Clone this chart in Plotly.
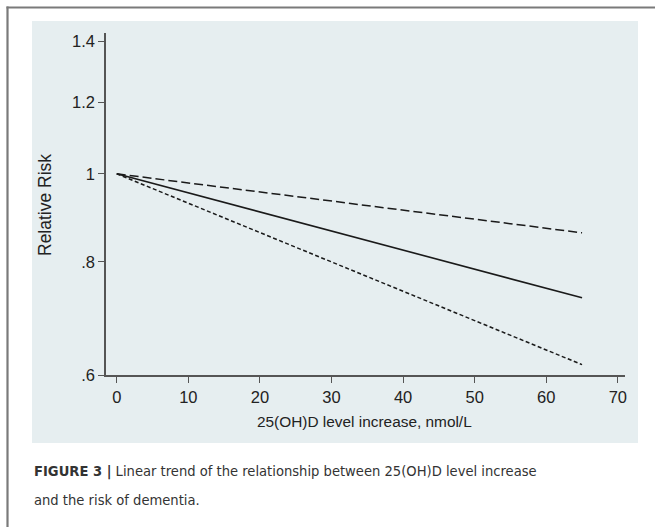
import plotly.graph_objects as go

x_vals = [0, 10, 20, 30, 40, 50, 60, 65]
rr_est = [1.0, 0.953, 0.908, 0.865, 0.824, 0.785, 0.748, 0.730]
rr_upper = [1.0, 0.977, 0.955, 0.933, 0.912, 0.891, 0.871, 0.861]
rr_lower = [1.0, 0.928, 0.861, 0.799, 0.742, 0.689, 0.639, 0.616]

x_ticks = [0, 10, 20, 30, 40, 50, 60, 70]
y_ticks = [0.6, 0.8, 1.0, 1.2, 1.4]
y_tick_labels = [".6", ".8", "1", "1.2", "1.4"]

W, H = 655, 527
L, R, T, B = 106, 30, 33, 152
pw, ph = W - L - R, H - T - B


def px(x):
    return (x - L) / pw


def py(y):
    return (H - B - y) / ph


line_col = "#1a1a1a"
fig = go.Figure()
fig.add_trace(go.Scatter(x=x_vals, y=rr_upper, mode="lines",
                         line=dict(color=line_col, width=1.5, dash="9px,4px")))
fig.add_trace(go.Scatter(x=x_vals, y=rr_est, mode="lines",
                         line=dict(color=line_col, width=1.6)))
fig.add_trace(go.Scatter(x=x_vals, y=rr_lower, mode="lines",
                         line=dict(color=line_col, width=1.5, dash="4px,2.5px")))

shapes = [
    dict(type="rect", xref="paper", yref="paper", x0=px(32), x1=px(638),
         y0=py(443), y1=py(21), fillcolor="#e6eef0", line=dict(width=0), layer="below"),
    dict(type="line", xref="paper", yref="paper", x0=px(6.5), x1=px(655),
         y0=py(7.5), y1=py(7.5), line=dict(color="#7a7a7a", width=2.2)),
    dict(type="line", xref="paper", yref="paper", x0=px(7.5), x1=px(7.5),
         y0=py(6.5), y1=py(527), line=dict(color="#7a7a7a", width=2.2)),
]

font_ax = "Liberation Sans, Arial, sans-serif"
cap_font = "Liberation Sans Narrow, DejaVu Sans Condensed, Arial Narrow, sans-serif"
annotations = [
    dict(text="25(OH)D level increase, nmol/L", xref="paper", yref="paper",
         x=px(364), y=py(422), showarrow=False, xanchor="center", yanchor="middle",
         font=dict(family=font_ax, size=15.4, color="#222222")),
    dict(text="Relative Risk", xref="paper", yref="paper", textangle=-90,
         x=px(45), y=py(205), showarrow=False, xanchor="center", yanchor="middle",
         font=dict(family=font_ax, size=17.5, color="#222222")),
    dict(text="<b>FIGURE 3 |</b> Linear trend of the relationship between 25(OH)D level increase",
         xref="paper", yref="paper", x=px(32), y=py(471), showarrow=False,
         xanchor="left", yanchor="middle",
         font=dict(family=cap_font, size=14.6, color="#333333")),
    dict(text="and the risk of dementia.",
         xref="paper", yref="paper", x=px(32), y=py(499), showarrow=False,
         xanchor="left", yanchor="middle",
         font=dict(family=cap_font, size=14.6, color="#333333")),
]

fig.update_layout(
    width=W, height=H,
    margin=dict(l=L, r=R, t=T, b=B, pad=0),
    paper_bgcolor="white", plot_bgcolor="rgba(0,0,0,0)",
    showlegend=False,
    shapes=shapes, annotations=annotations,
    xaxis=dict(range=[-1.5, 71], tickvals=x_ticks, showgrid=False, zeroline=False,
               showline=True, linecolor="#555555", linewidth=1.5,
               ticks="outside", ticklen=6, tickcolor="#555555", tickwidth=1.2,
               tickfont=dict(family=font_ax, size=16.5, color="#222222")),
    yaxis=dict(type="log", range=[-0.22185, 0.15534], tickvals=y_ticks,
               ticktext=y_tick_labels, showgrid=False, zeroline=False,
               showline=True, linecolor="#555555", linewidth=1.5,
               ticks="outside", ticklen=6, tickcolor="#555555", tickwidth=1.2,
               tickfont=dict(family=font_ax, size=16.5, color="#222222")),
)

fig.write_html("out.html", config={"displayModeBar": False},
               post_script="document.body.style.margin='0';document.body.style.overflow='hidden';")
